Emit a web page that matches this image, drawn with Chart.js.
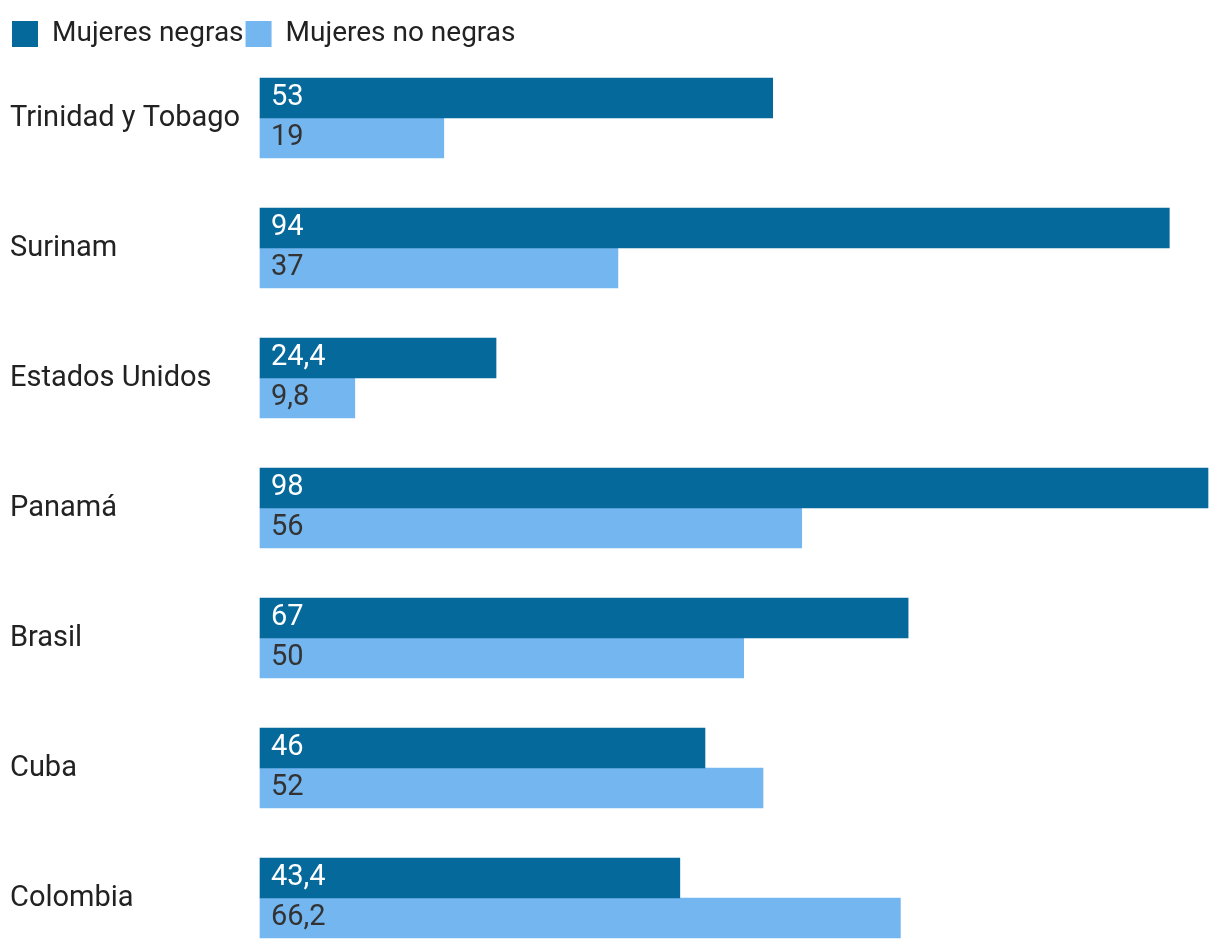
<!DOCTYPE html>
<html>
<head>
<meta charset="utf-8">
<script src="https://cdn.jsdelivr.net/npm/chart.js@4.4.1/dist/chart.umd.min.js"></script>
<style>
  html, body { margin: 0; padding: 0; background: #fff; }
  #wrap { width: 1220px; height: 948px; }
</style>
</head>
<body>
<div id="wrap"><canvas id="chart"></canvas></div>
<script>
// ---- datos ----
const paises = ["Trinidad y Tobago", "Surinam", "Estados Unidos", "Panamá", "Brasil", "Cuba", "Colombia"];
const mujeresNegras = [53, 94, 24.4, 98, 67, 46, 43.4];
const mujeresNoNegras = [19, 37, 9.8, 56, 50, 52, 66.2];
const seriesNames = ["Mujeres negras", "Mujeres no negras"];
const xMax = 98;

const FONT = "Roboto, 'Noto Sans', sans-serif";
const darkBlue = "#05699b";
const lightBlue = "#74b6f0";

// ---- labels inside the bars ----
const valueLabels = {
  id: "valueLabels",
  afterDatasetsDraw(chart) {
    const ctx = chart.ctx;
    ctx.save();
    ctx.font = "29px " + FONT;
    ctx.textBaseline = "middle";
    ctx.textAlign = "left";
    chart.data.datasets.forEach((ds, i) => {
      const meta = chart.getDatasetMeta(i);
      ctx.fillStyle = i === 0 ? "#ffffff" : "#333333";
      meta.data.forEach((bar, j) => {
        const txt = String(ds.data[j]).replace(".", ",");
        ctx.fillText(txt, bar.base + 11, bar.y);
      });
    });
    ctx.restore();
  },
};

const ctx = document.getElementById("chart");

const barChart = new Chart(ctx, {
  type: "bar",
  data: {
    labels: paises,
    datasets: [
      {
        label: seriesNames[0],
        data: mujeresNegras,
        backgroundColor: darkBlue,
        barThickness: 40,
        clip: false,
      },
      {
        label: seriesNames[1],
        data: mujeresNoNegras,
        backgroundColor: lightBlue,
        barThickness: 40,
        clip: false,
      },
    ],
  },
  options: {
    indexAxis: "y",
    responsive: true,
    maintainAspectRatio: false,
    animation: false,
    layout: {
      padding: { top: 18, left: 10, right: 12, bottom: 50 },
    },
    scales: {
      x: {
        position: "top",
        min: 0,
        max: xMax,
        ticks: { display: false },
        grid: { display: false },
        border: { display: false },
        afterFit: (scale) => {
          scale.height = 60;
        },
      },
      y: {
        offset: false,
        ticks: {
          crossAlign: "far",
          color: "#222",
          labelOffset: 1,
          font: { family: FONT, size: 29 },
        },
        grid: { display: false },
        border: { display: false },
        afterFit: (scale) => {
          scale.width = 250;
        },
      },
    },
    plugins: {
      legend: {
        position: "top",
        align: "start",
        labels: {
          boxWidth: 26,
          boxHeight: 26,
          padding: 2,
          color: "#222",
          font: { family: FONT, size: 28 },
        },
      },
      tooltip: { enabled: false },
    },
  },
  plugins: [valueLabels],
});
</script>
</body>
</html>
